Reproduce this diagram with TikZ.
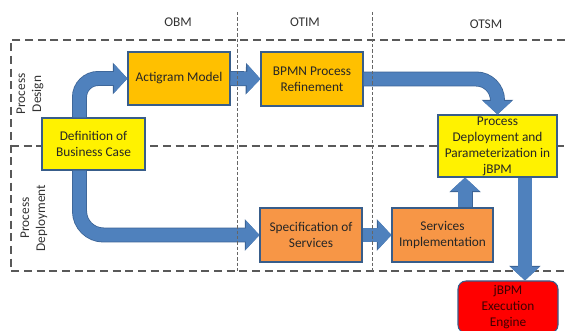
\documentclass[tikz,border=0pt]{standalone}
\usepackage{fontspec}
\setmainfont{Carlito}
\usetikzlibrary{arrows.meta}
\definecolor{flowblue}{RGB}{79,129,189}
\definecolor{flowedge}{RGB}{60,100,150}
\definecolor{goldbox}{RGB}{255,192,0}
\definecolor{orangebox}{RGB}{247,150,70}
\definecolor{boxedge}{RGB}{56,93,138}
\tikzset{
  lane line/.style={line width=1.2pt, dash pattern=on 6pt off 3.5pt, black!65},
  column line/.style={thin, dash pattern=on 2.5pt off 1.5pt, black!60},
  stage box/.style={draw=boxedge, line width=0.8pt, align=center, inner sep=1pt, font=\fontsize{10}{12}\selectfont, text=black!85},
  case box/.style={stage box, fill=yellow},
  model box/.style={stage box, fill=goldbox},
  service box/.style={stage box, fill=orangebox},
  engine box/.style={stage box, fill=red, rounded corners=6pt, text=red!25!black},
  flow arrow/.style={line width=10pt, flowblue, -{Triangle[length=10pt, width=21pt]},
    preaction={draw=flowedge, line width=11.2pt, -{Triangle[length=11pt, width=23pt]}}},
  lane label/.style={rotate=90, align=center, font=\fontsize{10}{12}\selectfont, text=black!80},
  column label/.style={font=\fontsize{10}{12}\selectfont, text=black!80},
}

\begin{document}
\begin{tikzpicture}[x=0.75pt, y=-0.75pt]
  \useasboundingbox (0,0) rectangle (565,331);
  % swim lanes
  \draw[lane line] (565,40) -- (11,40) -- (11,271) -- (565,271);
  \draw[lane line] (11,146) -- (565,146);
  \node[column label] (obm) at (178,22) {OBM};
  \node[column label] (otim) at (305,22) {OTIM};
  \node[column label] (otsm) at (486,24) {OTSM};
  \node[lane label] (design) at (30,94) {Process\\Design};
  \node[lane label] (deploy) at (34,218) {Process\\Deployment};
  % stages
  \node[case box, minimum width=77.25pt, minimum height=39pt] (bcase) at (93.5,144) {Definition of\\Business Case};
  \node[model box, minimum width=76.5pt, minimum height=39.75pt] (actigram) at (179,78.5) {Actigram Model};
  \node[model box, minimum width=76.5pt, minimum height=40.5pt] (bpmn) at (312,79) {BPMN Process\\Refinement};
  \node[case box, minimum width=89.25pt, minimum height=46.5pt] (procdep) at (497.5,146) {Process\\Deployment and\\Parameterization in\\jBPM};
  \node[service box, minimum width=76.5pt, minimum height=40.5pt] (spec) at (311,235) {Specification of\\Services};
  \node[service box, minimum width=75.75pt, minimum height=40.5pt] (servimpl) at (442.5,235) {Services\\Implementation};
  \node[engine box, minimum width=75pt, minimum height=39pt] (engine) at (508,307) {jBPM\\Execution\\Engine};
  % flows
  \coordinate (case up) at ([xshift=-10.5pt]bcase.north);
  \coordinate (case down) at ([xshift=-10.5pt]bcase.south);
  \coordinate (impl out) at ([xshift=16.9pt]servimpl.north);
  \coordinate (dep out) at ([xshift=20.6pt]procdep.south);
  \draw[flow arrow] (case up) [rounded corners=14pt] |- (actigram.west);
  \draw[flow arrow] (case down) [rounded corners=18pt] |- (spec.west);
  \draw[flow arrow] (actigram.east) -- (bpmn.west);
  \draw[flow arrow] (bpmn.east) [rounded corners=16pt] -| (procdep.north);
  \draw[flow arrow] (spec.east) -- (servimpl.west);
  \draw[flow arrow] (impl out) -- (impl out |- procdep.south);
  \draw[flow arrow] (dep out) -- (dep out |- engine.north);
  % columns
  \draw[column line] (237,12) -- (237,271);
  \draw[column line] (372,12) -- (372,271);
\end{tikzpicture}
\end{document}
